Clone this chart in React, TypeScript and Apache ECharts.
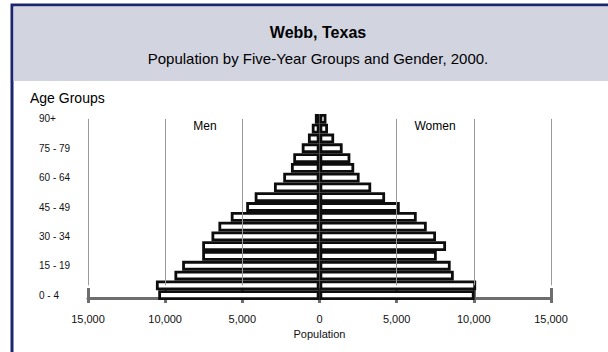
import React, { useEffect, useRef } from "react";
import * as echarts from "echarts";

const ageGroups = [
  "0 - 4", "5 - 9", "10 - 14", "15 - 19", "20 - 24", "25 - 29", "30 - 34",
  "35 - 39", "40 - 44", "45 - 49", "50 - 54", "55 - 59", "60 - 64", "65 - 69",
  "70 - 74", "75 - 79", "80 - 84", "85 - 89", "90+",
];
const men = [10450, 10600, 9400, 8900, 7600, 7600, 7000, 6550, 5750, 4750, 4200, 2950, 2350, 1850, 1700, 1150, 750, 500, 300];
const women = [10050, 10150, 8700, 8500, 7600, 8200, 7550, 6950, 6300, 5200, 4250, 3350, 2600, 2250, 2000, 1500, 950, 550, 450];
const gridValues = [-15000, -10000, -5000, 5000, 10000, 15000];

const titleText = "Webb, Texas";
const subtitleText = "Population by Five-Year Groups and Gender, 2000.";
const FONT = "'Liberation Sans', Arial, sans-serif";

const fmt = (v: number) => Math.abs(v).toLocaleString("en-US");

export default function App() {
  const ref = useRef<HTMLDivElement>(null);
  useEffect(() => {
    if (!ref.current) return;
    const chart = echarts.init(ref.current, undefined, { renderer: "svg" });
    const axisGrey = "#6e6e6e";
    const barStyle = { color: "#ffffff", borderColor: "#0d0d0d", borderWidth: 2.8 };
    chart.setOption({
      animation: false,
      textStyle: { fontFamily: FONT },
      grid: { left: 88, right: 57, top: 114, bottom: 52, containLabel: false },
      xAxis: [
        {
          type: "value", min: -15000, max: 15000, interval: 5000, position: "bottom", offset: -2,
          axisLine: { show: true, lineStyle: { color: axisGrey, width: 3 } },
          axisTick: { show: true, length: 5, lineStyle: { color: axisGrey, width: 3 } },
          axisLabel: { formatter: fmt, fontSize: 11, color: "#111", margin: 15, fontFamily: FONT },
          splitLine: { show: false },
          name: "Population", nameLocation: "middle", nameGap: 30,
          nameTextStyle: { fontSize: 11, color: "#111", fontFamily: FONT },
        },
        {
          type: "value", min: -15000, max: 15000, interval: 5000, position: "bottom", offset: -2,
          axisLine: { show: false },
          axisTick: { show: true, inside: true, length: 10, lineStyle: { color: axisGrey, width: 3 } },
          axisLabel: { show: false },
          splitLine: { show: false },
        },
      ],
      yAxis: {
        type: "category", data: ageGroups,
        axisLine: { show: false }, axisTick: { show: false },
        axisLabel: { interval: 2, fontSize: 10, color: "#111", align: "left", margin: 49, fontFamily: FONT },
      },
      series: [
        {
          name: "Men", type: "bar", xAxisIndex: 0, barGap: "-100%", barCategoryGap: "0%",
          data: men.map((v) => -v), itemStyle: barStyle, silent: true,
          markLine: {
            silent: true, symbol: ["none", "none"], label: { show: false },
            lineStyle: { color: "#9a9a9a", width: 1, type: "solid" },
            emphasis: { disabled: true },
            data: gridValues.map((x) => [
              { coord: [x, ageGroups[ageGroups.length - 1]] },
              { coord: [x, ageGroups[1]] },
            ]),
          },
        },
        {
          name: "Women", type: "bar", xAxisIndex: 0, barGap: "-100%", barCategoryGap: "0%",
          data: women, itemStyle: barStyle, silent: true,
        },
      ],
      graphic: [
        { type: "rect", z: -10, shape: { x: 12, y: 5, width: 700, height: 400 }, style: { fill: "#ffffff", stroke: "#1c2670", lineWidth: 3 } },
        { type: "rect", z: -9, shape: { x: 13.5, y: 6.5, width: 700, height: 74.5 }, style: { fill: "#d2d4e0" } },
        { type: "text", x: 318, y: 32, style: { text: titleText, font: `bold 16px ${FONT}`, fill: "#000", textAlign: "center", textVerticalAlign: "middle" } },
        { type: "text", x: 318, y: 58, style: { text: subtitleText, font: `15px ${FONT}`, fill: "#000", textAlign: "center", textVerticalAlign: "middle" } },
        { type: "text", x: 30, y: 98, style: { text: "Age Groups", font: `14px ${FONT}`, fill: "#000", textAlign: "left", textVerticalAlign: "middle" } },
        { type: "text", x: 205, y: 126, style: { text: "Men", font: `12px ${FONT}`, fill: "#000", textAlign: "center", textVerticalAlign: "middle" } },
        { type: "text", x: 435, y: 126, style: { text: "Women", font: `12px ${FONT}`, fill: "#000", textAlign: "center", textVerticalAlign: "middle" } },
      ],
    });
    return () => chart.dispose();
  }, []);
  return (
    <div
      ref={ref}
      style={{ position: "absolute", left: 0, top: 0, width: 608, height: 352, background: "#fff" }}
    />
  );
}
